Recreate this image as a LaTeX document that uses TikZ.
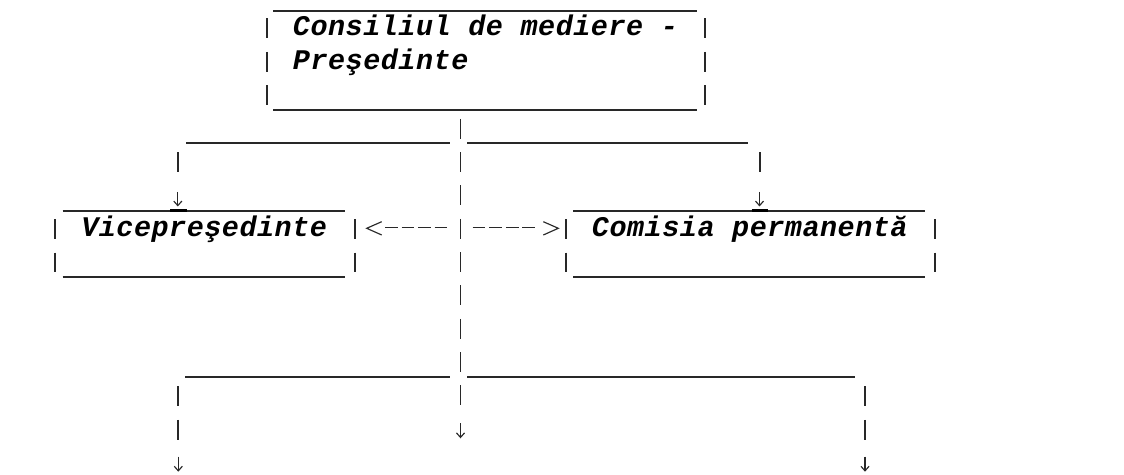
\documentclass[tikz,border=0pt]{standalone}
\usepackage{fontspec}
\usepackage{tikz}
\usetikzlibrary{arrows.meta, calc}
\newfontfamily\lblfont[LetterSpace=1.8]{Liberation Mono}
\definecolor{AsciiGray}{RGB}{40,40,40}
\tikzset{
    lbl/.style={
        anchor=base west, inner sep=0pt, text=black,
        font=\lblfont\bfseries\itshape\fontsize{16.2pt}{19pt}\selectfont
    },
    hbar/.style={
        draw=AsciiGray, line width=0.95pt
    },
    vbar/.style={
        draw=AsciiGray, line width=1pt, dash pattern=on 11.34pt off 7.63pt
    },
    downarr/.style={
        draw=AsciiGray, line width=0.65pt, -{Straight Barb[length=2.6pt,width=4.6pt]}
    },
    dashln/.style={
        draw=AsciiGray, line width=0.75pt, dash pattern=on 7.26pt off 2.15pt
    },
    chev/.style={
        draw=AsciiGray, line width=0.65pt
    }
}
\begin{document}
\begin{tikzpicture}[x=0.02cm, y=-0.02cm]
    \fill[white] (0,0) rectangle (1124,475);
    \useasboundingbox (0,0) rectangle (1124,475);

    % --- Consiliul de mediere ---
    \node[lbl] (cons) at (292.6,36) {Consiliul de mediere -};
    \node[lbl] (pres) at (292.6,69.4) {Preşedinte};
    \draw[hbar] (273.3,11) -- (696.7,11);
    \draw[hbar] (273.3,110) -- (696.7,110);
    \draw[vbar] (266.7,18.5) -- (266.7,105.4);
    \draw[vbar] (705,18.5) -- (705,105.4);

    % --- Vicepresedinte ---
    \node[lbl] (vice) at (80.9,236.7) {Vicepreşedinte};
    \draw[hbar] (62.7,210.7) -- (345,210.7);
    \draw[hbar] (62.7,276.7) -- (345,276.7);
    \draw[vbar] (55,219.2) -- (55,272.7);
    \draw[vbar] (355,219.2) -- (355,272.7);

    % --- Comisia permanenta ---
    \node[lbl] (comis) at (591.6,236.7) {Comisia permanentă};
    \draw[hbar] (573.3,210.7) -- (925,210.7);
    \draw[hbar] (573.3,276.7) -- (925,276.7);
    \draw[vbar] (565.7,219.2) -- (565.7,272.7);
    \draw[vbar] (935,219.2) -- (935,272.7);

    % trunk from the top box down
    \coordinate (trunk) at (460.5,118.8);
    \coordinate (trunkend) at (460.5,406.5);
    \draw[vbar] (trunk) -- (trunkend);
    \draw[downarr] (460.5,423.3) -- (460.5,438.3);

    % upper branch
    \draw[hbar] (186,143.3) -- (450,143.3);
    \draw[hbar] (467,143.3) -- (748,143.3);
    \foreach \x/\xa in {178.3/177.8, 760/759.5} {
        \draw[vbar] (\x,152.3) -- (\x,172.3);
        \draw[downarr] (\xa,192) -- (\xa,206.5);
    }
    \draw[draw=black, line width=1.5pt] (170,210.7) -- (186.7,210.7);
    \draw[draw=black, line width=1.5pt] (751.7,210.7) -- (768.3,210.7);

    % side links to the trunk
    \coordinate (linkL) at (385,227.7);
    \coordinate (linkLend) at (450,227.7);
    \coordinate (linkR) at (472.7,227.7);
    \coordinate (linkRend) at (538.3,227.7);
    \draw[dashln] (linkL) -- (linkLend);
    \draw[dashln] (linkR) -- (linkRend);
    \draw[chev] (381.7,221.7) -- (366.7,228.3) -- (381.7,235);
    \draw[chev] (543.3,221.7) -- (558.3,228.3) -- (543.3,235);

    % lower branch
    \draw[hbar] (185,376.7) -- (450,376.7);
    \draw[hbar] (467,376.7) -- (855,376.7);
    \foreach \x in {178.3, 865} {
        \draw[vbar] (\x,386.5) -- (\x,439.9);
        \draw[downarr] (\x,456.7) -- (\x,471.7);
    }
\end{tikzpicture}
\end{document}
